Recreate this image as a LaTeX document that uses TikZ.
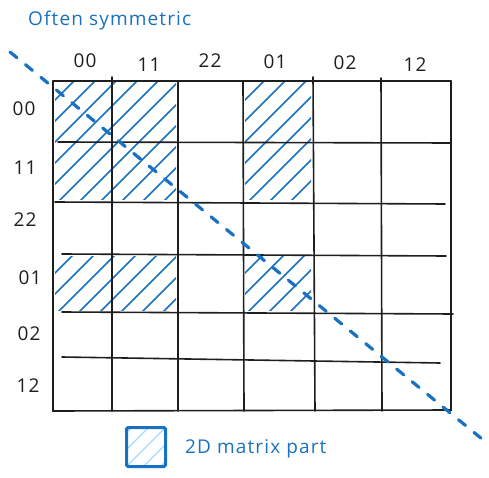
\documentclass[tikz,border=0pt]{standalone}
\usepackage{fontspec}
\setmainfont{Open Sans}[LetterSpace=6]
\definecolor{exblue}{HTML}{1971C2}
\definecolor{exlight}{HTML}{A5D8FF}
\definecolor{exblack}{HTML}{1E1E1E}
\newcommand\myhatch[4]{%
  \begin{scope}
    \clip (#1+2,#2+2) rectangle (#3-2,#4-2);
    \foreach \i in {0,...,16} {
      \pgfmathsetmacro\cc{#1+#2+\i*21}
      \draw[hatch] ({\cc-#4},#4) -- ({\cc-#2},#2);
    }
  \end{scope}}
\begin{document}
\begin{tikzpicture}[x=1pt,y=-1pt,
  gridline/.style={exblack, line width=1.6pt, line cap=round},
  hatch/.style={exblue, line width=1.5pt, line cap=round},
  lbl/.style={font=\fontsize{19}{22}\selectfont, text=exblack, inner sep=0pt},
  bluetxt/.style={font=\fontsize{19}{22}\selectfont, text=exblue, inner sep=0pt},
  diag/.style={exblue, line width=3.2pt, dash pattern=on 9pt off 11pt, line cap=round}]
\useasboundingbox (0,0) rectangle (489,478);

% hatched parts
\myhatch{53}{81}{178}{202}
\myhatch{243}{81}{313}{202}
\myhatch{53}{254}{178}{312}
\myhatch{243}{254}{313}{312}

% grid
\draw[gridline] (53,81) -- (451,81);
\draw[gridline] (53,81) -- (53,411) -- (451,410) -- (451,81);
\draw[gridline] (112,77) -- (112,411);
\draw[gridline] (178,81) -- (178,411);
\draw[gridline] (243,81) -- (244,411);
\draw[gridline] (313,77) -- (315,411);
\draw[gridline] (381,78) -- (382,411);
\draw[gridline] (58,142) -- (451,143);
\draw[gridline] (55,202) -- (445,204);
\draw[gridline] (62,254) -- (446,256);
\draw[gridline] (62,312) -- (453,314);
\draw[gridline] (62,357) -- (440,363);

% labels
\node[bluetxt, anchor=west] (title) at (28,21) {Often symmetric};
\node[lbl] (c00) at (85,61) {00};
\node[lbl] (c11) at (149,65) {11};
\node[lbl] (c22) at (210,61) {22};
\node[lbl] (c01) at (275,62) {01};
\node[lbl] (c02) at (345,63) {02};
\node[lbl] (c12) at (415,65) {12};
\node[lbl] (r00) at (24,109) {00};
\node[lbl] (r11) at (25,168) {11};
\node[lbl] (r22) at (25,220) {22};
\node[lbl] (r01) at (30,278) {01};
\node[lbl] (r02) at (29,334) {02};
\node[lbl] (r12) at (28,386) {12};

% diagonal
\coordinate (ds) at (10,52);
\coordinate (de) at (482,439);
\draw[diag] (ds) -- (de);

% legend
\node[draw=exblue, line width=3pt, minimum size=39pt, inner sep=0pt, rounded corners=1.5pt,
  path picture={\foreach \i in {-2,...,2}
    \draw[exlight, line width=1.2pt] ([xshift=\i*17pt]path picture bounding box.south west) -- ++(60pt,60pt);}]
  (legend) at (146,447) {};
\node[bluetxt, anchor=west] (legtxt) at (185,449) {2D matrix part};
\end{tikzpicture}
\end{document}
